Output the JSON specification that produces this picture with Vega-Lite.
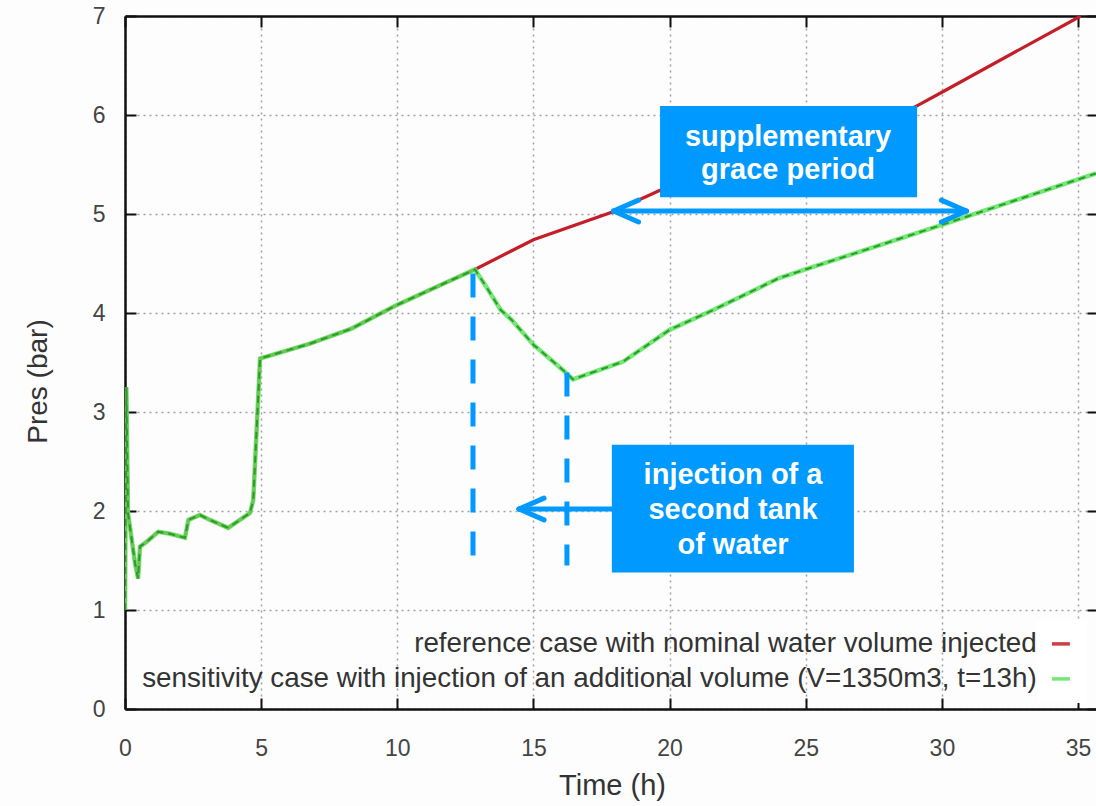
{
  "$schema": "https://vega.github.io/schema/vega-lite/v6.json",
  "width": 971,
  "height": 693,
  "autosize": {"type": "none"},
  "padding": {"left": 125, "top": 16, "right": 0, "bottom": 97},
  "background": "#fdfdfd",
  "config": {
    "view": {"stroke": null},
    "font": "Liberation Sans"
  },
  "resolve": {"axis": {"x": "independent", "y": "independent"}},
  "datasets": {
    "curves": [
      {"series": "ref", "t": 0, "p": 1.0},
      {"series": "ref", "t": 0.05, "p": 3.25},
      {"series": "ref", "t": 0.11, "p": 1.98},
      {"series": "ref", "t": 0.37, "p": 1.47},
      {"series": "ref", "t": 0.48, "p": 1.32},
      {"series": "ref", "t": 0.55, "p": 1.64},
      {"series": "ref", "t": 0.8, "p": 1.69},
      {"series": "ref", "t": 1.22, "p": 1.79},
      {"series": "ref", "t": 1.65, "p": 1.77},
      {"series": "ref", "t": 2.2, "p": 1.73},
      {"series": "ref", "t": 2.33, "p": 1.91},
      {"series": "ref", "t": 2.75, "p": 1.96},
      {"series": "ref", "t": 3.12, "p": 1.91},
      {"series": "ref", "t": 3.79, "p": 1.83},
      {"series": "ref", "t": 4.59, "p": 1.98},
      {"series": "ref", "t": 4.71, "p": 2.11},
      {"series": "ref", "t": 4.96, "p": 3.54},
      {"series": "ref", "t": 5.2, "p": 3.56},
      {"series": "ref", "t": 6.79, "p": 3.69},
      {"series": "ref", "t": 8.3, "p": 3.84},
      {"series": "ref", "t": 9.98, "p": 4.08},
      {"series": "ref", "t": 11.57, "p": 4.28},
      {"series": "ref", "t": 12.85, "p": 4.44},
      {"series": "ref", "t": 15.0, "p": 4.74},
      {"series": "ref", "t": 17.9, "p": 5.02},
      {"series": "ref", "t": 19.65, "p": 5.24},
      {"series": "ref", "t": 24.5, "p": 5.68},
      {"series": "ref", "t": 29.0, "p": 6.08},
      {"series": "ref", "t": 30.0, "p": 6.23},
      {"series": "ref", "t": 35.1, "p": 7.0},
      {"series": "sens", "t": 0, "p": 1.0},
      {"series": "sens", "t": 0.05, "p": 3.25},
      {"series": "sens", "t": 0.11, "p": 1.98},
      {"series": "sens", "t": 0.37, "p": 1.47},
      {"series": "sens", "t": 0.48, "p": 1.32},
      {"series": "sens", "t": 0.55, "p": 1.64},
      {"series": "sens", "t": 0.8, "p": 1.69},
      {"series": "sens", "t": 1.22, "p": 1.79},
      {"series": "sens", "t": 1.65, "p": 1.77},
      {"series": "sens", "t": 2.2, "p": 1.73},
      {"series": "sens", "t": 2.33, "p": 1.91},
      {"series": "sens", "t": 2.75, "p": 1.96},
      {"series": "sens", "t": 3.12, "p": 1.91},
      {"series": "sens", "t": 3.79, "p": 1.83},
      {"series": "sens", "t": 4.59, "p": 1.98},
      {"series": "sens", "t": 4.71, "p": 2.11},
      {"series": "sens", "t": 4.96, "p": 3.54},
      {"series": "sens", "t": 5.2, "p": 3.56},
      {"series": "sens", "t": 6.79, "p": 3.69},
      {"series": "sens", "t": 8.3, "p": 3.84},
      {"series": "sens", "t": 9.98, "p": 4.08},
      {"series": "sens", "t": 11.57, "p": 4.28},
      {"series": "sens", "t": 12.85, "p": 4.44},
      {"series": "sens", "t": 13.3, "p": 4.25},
      {"series": "sens", "t": 13.8, "p": 4.03},
      {"series": "sens", "t": 14.2, "p": 3.93},
      {"series": "sens", "t": 15.0, "p": 3.68},
      {"series": "sens", "t": 16.1, "p": 3.42},
      {"series": "sens", "t": 16.45, "p": 3.33},
      {"series": "sens", "t": 18.3, "p": 3.51},
      {"series": "sens", "t": 20.0, "p": 3.83},
      {"series": "sens", "t": 21.6, "p": 4.03},
      {"series": "sens", "t": 24.0, "p": 4.35},
      {"series": "sens", "t": 25.1, "p": 4.45},
      {"series": "sens", "t": 30.0, "p": 4.89},
      {"series": "sens", "t": 35.66, "p": 5.41}
    ]
  },
  "layer": [
    {
      "data": {"name": "curves"},
      "transform": [{"filter": "datum.series === 'ref'"}],
      "mark": {"type": "line", "strokeWidth": 3.2, "clip": true},
      "encoding": {
        "x": {
          "field": "t", "type": "quantitative",
          "scale": {"domain": [0, 35.66], "nice": false, "zero": false},
          "axis": {
            "orient": "bottom",
            "values": [0, 5, 10, 15, 20, 25, 30, 35],
            "title": "Time (h)", "titleFontSize": 29, "titleFontWeight": "normal", "titleColor": "#333",
            "titleX": 487, "titleY": 76, "titleBaseline": "middle", "titleAlign": "center",
            "grid": true, "gridDash": [2, 4], "gridColor": "#a0a0a0", "gridWidth": 1.5,
            "domainColor": "#111", "domainWidth": 2.5,
            "tickColor": "#111", "tickSize": -11, "tickWidth": 2,
            "labelFontSize": 23, "labelColor": "#444", "labelPadding": 39, "labelFlush": false
          }
        },
        "y": {
          "field": "p", "type": "quantitative",
          "scale": {"domain": [0, 7], "nice": false, "zero": false},
          "axis": {
            "orient": "left",
            "values": [0, 1, 2, 3, 4, 5, 6, 7],
            "title": "Pres (bar)", "titleFontSize": 28, "titleFontWeight": "normal", "titleColor": "#333",
            "titleX": -87, "titleY": 365, "titleAngle": 270, "titleBaseline": "middle", "titleAlign": "center",
            "grid": true, "gridDash": [2, 4], "gridColor": "#a0a0a0", "gridWidth": 1.5,
            "domainColor": "#111", "domainWidth": 2.5,
            "tickColor": "#111", "tickSize": -11, "tickWidth": 2,
            "labelFontSize": 23, "labelColor": "#444", "labelPadding": 31, "labelFlush": false
          }
        },
        "color": {
          "field": "series", "type": "nominal",
          "scale": {"domain": ["ref", "sens"], "range": ["#c41e28", "#5ee35e"]},
          "legend": {
            "orient": "none", "legendX": 912, "legendY": 604, "direction": "vertical",
            "title": null, "symbolType": "stroke", "symbolSize": 324, "symbolStrokeWidth": 3.5,
            "labelAlign": "right", "labelOffset": -38, "labelFontSize": 27.8, "labelColor": "#333",
            "labelLimit": 1200, "rowPadding": 6, "padding": 10, "fillColor": "white",
            "labelExpr": "datum.value === 'ref' ? 'reference case with nominal water volume injected' : 'sensitivity case with injection of an additional volume (V=1350m3, t=13h)'"
          }
        }
      }
    },
    {
      "data": {"name": "curves"},
      "transform": [{"filter": "datum.series === 'sens'"}],
      "mark": {"type": "line", "strokeWidth": 4.5, "opacity": 0.85, "clip": true},
      "encoding": {
        "x": {"field": "t", "type": "quantitative", "axis": null},
        "y": {"field": "p", "type": "quantitative", "axis": null},
        "color": {"field": "series", "type": "nominal"}
      }
    },
    {
      "data": {"name": "curves"},
      "transform": [{"filter": "datum.series === 'sens'"}],
      "mark": {"type": "line", "strokeWidth": 2, "color": "#2a9c2a", "strokeDash": [7, 5], "clip": true},
      "encoding": {
        "x": {"field": "t", "type": "quantitative",
          "axis": {"orient": "top", "values": [0, 5, 10, 15, 20, 25, 30, 35], "labels": false, "title": null, "grid": false,
            "domainColor": "#111", "domainWidth": 2.5, "tickColor": "#111", "tickSize": -11, "tickWidth": 2}},
        "y": {"field": "p", "type": "quantitative",
          "axis": {"orient": "right", "values": [0, 1, 2, 3, 4, 5, 6, 7], "labels": false, "title": null, "grid": false,
            "domain": false, "tickColor": "#111", "tickSize": -9, "tickWidth": 2}}
      }
    },
    {
      "data": {"values": [{}]},
      "mark": {"type": "rule", "color": "#0099ff", "strokeWidth": 5, "strokeDash": [24, 19]},
      "encoding": {
        "x": {"datum": 12.78, "type": "quantitative", "axis": null},
        "y": {"datum": 4.4, "type": "quantitative", "axis": null},
        "y2": {"datum": 1.4}
      }
    },
    {
      "data": {"values": [{}]},
      "mark": {"type": "rule", "color": "#0099ff", "strokeWidth": 5, "strokeDash": [24, 19]},
      "encoding": {
        "x": {"datum": 16.23, "type": "quantitative", "axis": null},
        "y": {"datum": 3.4, "type": "quantitative", "axis": null},
        "y2": {"datum": 1.45}
      }
    },
    {
      "data": {"values": [{}]},
      "mark": {"type": "rect", "color": "#0099ff"},
      "encoding": {
        "x": {"datum": 17.88, "type": "quantitative", "axis": null},
        "x2": {"datum": 26.77},
        "y": {"datum": 2.67, "type": "quantitative", "axis": null},
        "y2": {"datum": 1.38}
      }
    },
    {
      "data": {"values": [{}]},
      "mark": {"type": "text", "text": ["injection of a", "second tank", "of water"], "color": "white",
        "fontSize": 29, "fontWeight": "bold", "lineHeight": 35, "align": "center", "baseline": "middle"},
      "encoding": {
        "x": {"datum": 22.33, "type": "quantitative", "axis": null},
        "y": {"datum": 2.36, "type": "quantitative", "axis": null}
      }
    },
    {
      "data": {"values": [{}]},
      "mark": {"type": "rule", "color": "#0099ff", "strokeWidth": 5, "strokeCap": "round"},
      "encoding": {
        "x": {"datum": 14.47, "type": "quantitative", "axis": null},
        "x2": {"datum": 17.88},
        "y": {"datum": 2.02, "type": "quantitative", "axis": null}
      }
    },
    {
      "data": {"values": [{}]},
      "mark": {"type": "rule", "color": "#0099ff", "strokeWidth": 5, "strokeCap": "round"},
      "encoding": {
        "x": {"datum": 14.47, "type": "quantitative", "axis": null},
        "x2": {"datum": 15.39},
        "y": {"datum": 2.02, "type": "quantitative", "axis": null},
        "y2": {"datum": 2.13}
      }
    },
    {
      "data": {"values": [{}]},
      "mark": {"type": "rule", "color": "#0099ff", "strokeWidth": 5, "strokeCap": "round"},
      "encoding": {
        "x": {"datum": 14.47, "type": "quantitative", "axis": null},
        "x2": {"datum": 15.39},
        "y": {"datum": 2.02, "type": "quantitative", "axis": null},
        "y2": {"datum": 1.91}
      }
    },
    {
      "data": {"values": [{}]},
      "mark": {"type": "rect", "color": "#0099ff"},
      "encoding": {
        "x": {"datum": 19.65, "type": "quantitative", "axis": null},
        "x2": {"datum": 29.09},
        "y": {"datum": 6.09, "type": "quantitative", "axis": null},
        "y2": {"datum": 5.17}
      }
    },
    {
      "data": {"values": [{}]},
      "mark": {"type": "text", "text": ["supplementary", "grace period"], "color": "white",
        "fontSize": 29, "fontWeight": "bold", "lineHeight": 33, "align": "center", "baseline": "middle"},
      "encoding": {
        "x": {"datum": 24.35, "type": "quantitative", "axis": null},
        "y": {"datum": 5.78, "type": "quantitative", "axis": null}
      }
    },
    {
      "data": {"values": [{}]},
      "mark": {"type": "rule", "color": "#0099ff", "strokeWidth": 5, "strokeCap": "round"},
      "encoding": {
        "x": {"datum": 17.94, "type": "quantitative", "axis": null},
        "x2": {"datum": 30.9},
        "y": {"datum": 5.03, "type": "quantitative", "axis": null}
      }
    },
    {
      "data": {"values": [{}]},
      "mark": {"type": "rule", "color": "#0099ff", "strokeWidth": 5, "strokeCap": "round"},
      "encoding": {
        "x": {"datum": 17.94, "type": "quantitative", "axis": null},
        "x2": {"datum": 18.86},
        "y": {"datum": 5.03, "type": "quantitative", "axis": null},
        "y2": {"datum": 5.14}
      }
    },
    {
      "data": {"values": [{}]},
      "mark": {"type": "rule", "color": "#0099ff", "strokeWidth": 5, "strokeCap": "round"},
      "encoding": {
        "x": {"datum": 17.94, "type": "quantitative", "axis": null},
        "x2": {"datum": 18.86},
        "y": {"datum": 5.03, "type": "quantitative", "axis": null},
        "y2": {"datum": 4.92}
      }
    },
    {
      "data": {"values": [{}]},
      "mark": {"type": "rule", "color": "#0099ff", "strokeWidth": 5, "strokeCap": "round"},
      "encoding": {
        "x": {"datum": 30.9, "type": "quantitative", "axis": null},
        "x2": {"datum": 29.98},
        "y": {"datum": 5.03, "type": "quantitative", "axis": null},
        "y2": {"datum": 5.14}
      }
    },
    {
      "data": {"values": [{}]},
      "mark": {"type": "rule", "color": "#0099ff", "strokeWidth": 5, "strokeCap": "round"},
      "encoding": {
        "x": {"datum": 30.9, "type": "quantitative", "axis": null},
        "x2": {"datum": 29.98},
        "y": {"datum": 5.03, "type": "quantitative", "axis": null},
        "y2": {"datum": 4.92}
      }
    }
  ]
}
